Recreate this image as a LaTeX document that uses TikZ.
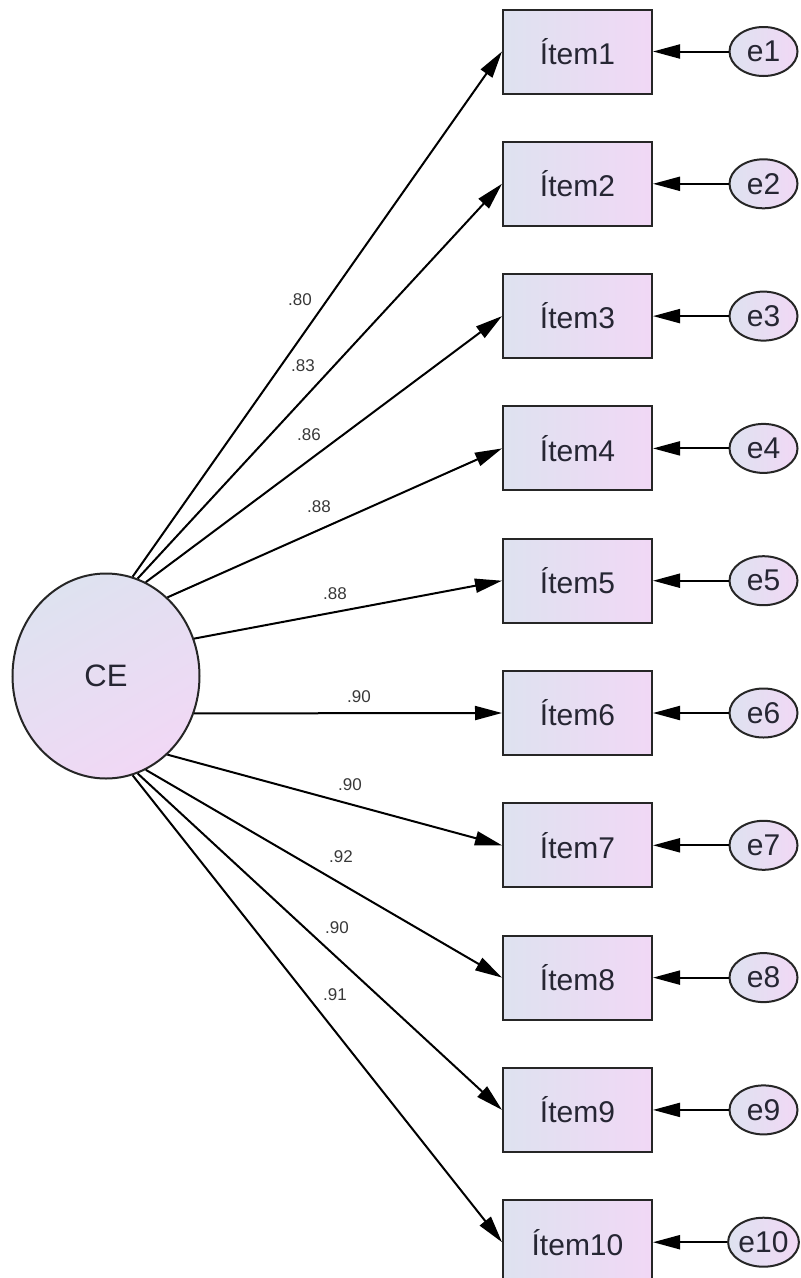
\documentclass[tikz,border=0pt]{standalone}
\usepackage{fontspec}
\setmainfont{Liberation Sans}
\usetikzlibrary{arrows.meta,shapes.geometric}
\definecolor{cA}{HTML}{DEE2F0}
\definecolor{cB}{HTML}{F1D8F5}
\definecolor{txt}{HTML}{262633}
\begin{document}
\begin{tikzpicture}[x=1pt,y=1pt,
  itembox/.style={draw=black!85, line width=2pt, minimum width=149pt, minimum height=84pt, inner sep=0pt, left color=cA, right color=cB, text=txt, font=\fontsize{30}{30}\selectfont},
  errnode/.style={ellipse, draw=black!85, line width=2pt, minimum width=68pt, minimum height=49pt, inner sep=0pt, left color=cA, right color=cB, text=txt, font=\fontsize{30}{30}\selectfont},
  latent/.style={ellipse, draw=black!85, line width=2pt, minimum width=187pt, minimum height=205pt, inner sep=0pt, top color=cA, bottom color=cB, shading angle=30, text=txt, font=\fontsize{31}{31}\selectfont},
  conn/.style={line width=2pt, -{Triangle[length=27pt,width=14pt]}},
  coef/.style={font=\fontsize{17}{17}\selectfont, text=black!78, inner sep=0pt},
]
\useasboundingbox (0,0) rectangle (801,-1278);

\node[latent] (CE) at (106,-676) {CE};

\foreach \i/\ang/\val/\lx/\ly in {
  1/75/.80/300/300,
  2/72.5/.83/303/366,
  3/67/.86/309/435,
  4/52.5/.88/319/507,
  5/23/.88/335/594,
  6/-23/.90/359/697,
  7/-52.5/.90/350/785,
  8/-67/.92/341/857,
  9/-72.5/.90/337/928,
  10/-75/.91/335/995}{
  \pgfmathsetmacro{\yc}{51.5+132.3*(\i-1)}
  \node[itembox] (item\i) at (577.5,-\yc) {Ítem\i};
  \node[errnode] (e\i) at (763.5,-\yc) {e\i};
  \draw[conn] (e\i) -- (item\i);
  \draw[conn] (CE.\ang) -- (item\i.west);
  \node[coef] (c\i) at (\lx,-\ly) {\val};
}
\end{tikzpicture}
\end{document}
